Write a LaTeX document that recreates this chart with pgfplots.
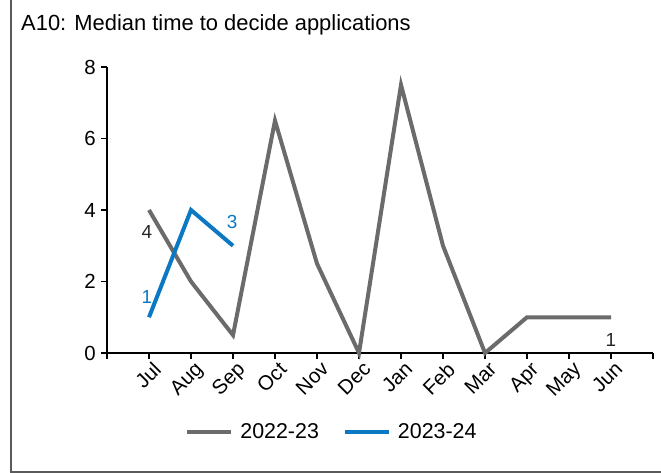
\documentclass[border=0pt]{standalone}
\usepackage{pgfplots}
\pgfplotsset{compat=1.18}
\usepackage{fontspec}
\setmainfont{Liberation Sans}

\definecolor{seriesgray}{HTML}{6B6B6B}
\definecolor{seriesblue}{HTML}{0A78C2}
\definecolor{framegray}{HTML}{5A5A5A}

\begin{document}
\begin{tikzpicture}
\useasboundingbox (0,0) rectangle (661bp,473bp);

% frame (left and bottom edges only are visible)
\draw[framegray, line width=2.5bp] (11bp,473bp) -- (11bp,1.2bp) -- (661bp,1.2bp);

% title
\node[anchor=base west, inner sep=0pt, font=\fontsize{22}{25}\selectfont] at (21bp,442bp)
  {A10: Median time to decide applications};

\begin{axis}[
    at={(107bp,120bp)}, anchor=south west,
    scale only axis,
    width=546bp, height=286bp,
    xmin=-1, xmax=12,
    ymin=0, ymax=8,
    axis x line=bottom, axis y line=left,
    axis line style={black, line width=1.4bp, -},
    xtick={-1,...,12},
    xticklabels={,Jul,Aug,Sep,Oct,Nov,Dec,Jan,Feb,Mar,Apr,May,Jun,},
    ytick={0,2,4,6,8},
    tick align=outside,
    major tick length=6bp,
    tick style={black, line width=1.1bp},
    /pgf/number format/assume math mode=true,
    tick label style={font=\fontsize{20.5}{22}\selectfont},
    xticklabel style={rotate=45, anchor=north east, inner sep=1pt, xshift=2bp, yshift=-2bp},
    yticklabel style={inner sep=2pt, xshift=-3bp},
    clip=false,
    legend style={at={(0.412,-0.276)}, anchor=center, draw=none, fill=none,
      legend columns=2, font=\fontsize{21.5}{24}\selectfont,
      /tikz/every odd column/.append style={column sep=5bp},
      /tikz/every even column/.append style={column sep=22bp}},
    legend image code/.code={\draw[#1, line width=4bp] (0bp,0bp) -- (44bp,0bp);},
]
\addplot[seriesgray, line width=4bp, line join=miter] coordinates {
  (0,4) (1,2) (2,0.5) (3,6.5) (4,2.5) (5,0) (6,7.5) (7,3) (8,0) (9,1) (10,1) (11,1)
};
\addlegendentry{2022-23}
\addplot[seriesblue, line width=4bp, line join=miter] coordinates {
  (0,1) (1,4) (2,3)
};
\addlegendentry{2023-24}

\node[font=\fontsize{19}{21}\selectfont, text=black!85] at (axis cs:-0.05,3.38) {4};
\node[font=\fontsize{19}{21}\selectfont, text=black!85] at (axis cs:11,0.36) {1};
\node[font=\fontsize{19}{21}\selectfont, text=seriesblue] at (axis cs:-0.05,1.57) {1};
\node[font=\fontsize{19}{21}\selectfont, text=seriesblue] at (axis cs:1.98,3.66) {3};
\end{axis}
\end{tikzpicture}
\end{document}
